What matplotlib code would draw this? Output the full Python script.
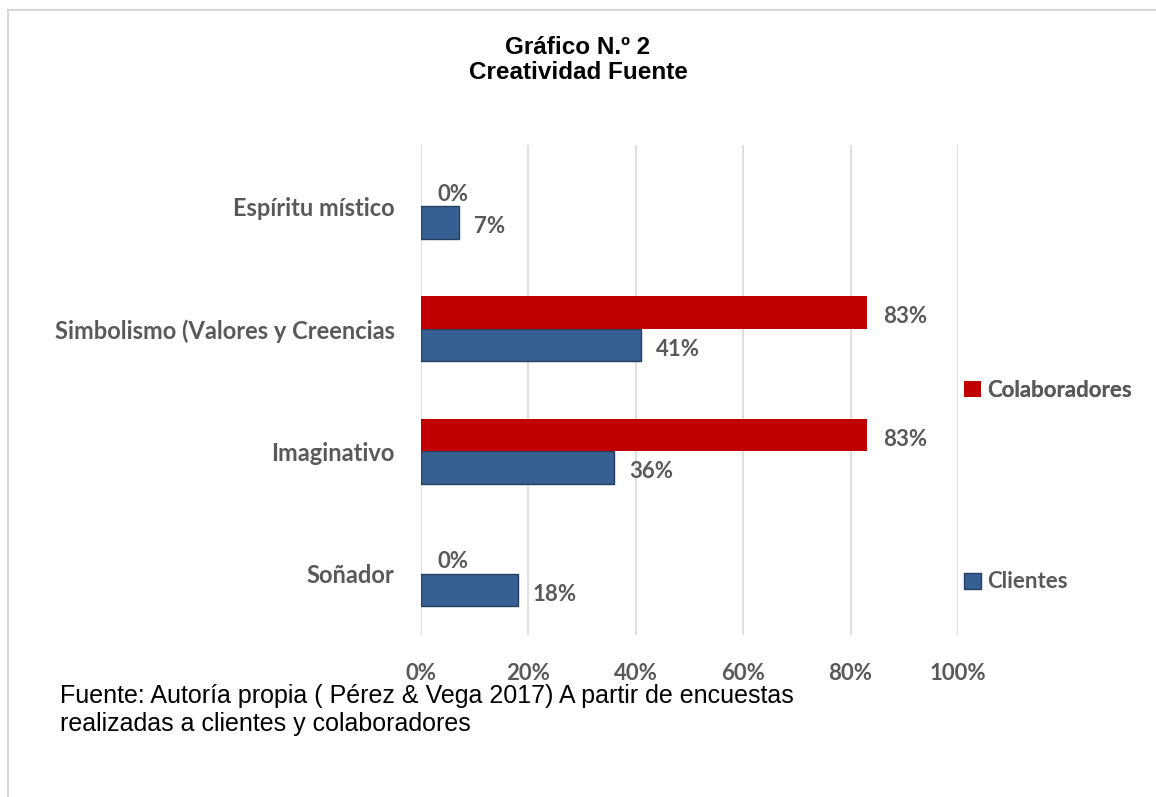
import matplotlib.pyplot as plt
from matplotlib.patches import Rectangle, Patch

categorias = ['Soñador', 'Imaginativo', 'Simbolismo (Valores y Creencias', 'Espíritu místico']
clientes = [18, 36, 41, 7]
colaboradores = [0, 83, 83, 0]
ticks = [0, 20, 40, 60, 80, 100]

GRIS = '#595959'
AZUL = '#376092'
ROJO = '#c00000'
TAM = 16

fig = plt.figure(figsize=(11.56, 7.97), dpi=100)
fig.patches.append(Rectangle((8 / 1156, -0.1), 1.2, 1 - 10 / 797 + 0.1, transform=fig.transFigure,
                             fill=False, edgecolor='#d9d9d9', linewidth=1.5))

ax = fig.add_axes([421 / 1156, 1 - 635 / 797, 537 / 1156, 490 / 797])

alto = 0.265
y = range(len(categorias))
ax.barh([i - alto / 2 for i in y], clientes, height=alto, color=AZUL, edgecolor='#243f60', linewidth=1, zorder=3)
ax.barh([i + alto / 2 for i in y], colaboradores, height=alto, color=ROJO, zorder=3)

for i in y:
    ax.annotate(f'{clientes[i]}%', (clientes[i], i - alto / 2), xytext=(11, -3), textcoords='offset points',
                ha='left', va='center', fontsize=TAM, fontweight='bold', color=GRIS, family='Lato')
    ax.annotate(f'{colaboradores[i]}%', (colaboradores[i], i + alto / 2), xytext=(12, -3), textcoords='offset points',
                ha='left', va='center', fontsize=TAM, fontweight='bold', color=GRIS, family='Lato')

ax.set_xlim(0, 100)
ax.set_ylim(-0.5, 3.5)
ax.set_xticks(ticks)
ax.set_xticklabels([f'{t}%' for t in ticks], fontsize=TAM, fontweight='bold', color=GRIS, family='Lato')
ax.set_yticks(list(y))
ax.set_yticklabels(categorias, fontsize=17, fontweight='bold', color=GRIS, family='Lato')
ax.tick_params(axis='x', length=0, pad=20)
ax.tick_params(axis='y', length=0, pad=19)
ax.grid(axis='x', color='#d9d9d9', linewidth=1.2, zorder=0)
for s in ax.spines.values():
    s.set_visible(False)

fig.text(0.5, 1 - 54 / 797, 'Gráfico N.º 2', ha='center', va='baseline', fontsize=17.5, fontweight='bold',
         family='Liberation Sans')
fig.text(0.5, 1 - 79 / 797, 'Creatividad Fuente', ha='center', va='baseline', fontsize=17.5, fontweight='bold',
         family='Liberation Sans')

leyenda = dict(frameon=False, handlelength=0.75, handleheight=0.75, handletextpad=0.3, borderaxespad=0,
               loc='center left', prop={'family': 'Lato', 'weight': 'bold', 'size': TAM})
leg1 = fig.legend(handles=[Patch(facecolor=ROJO, label='Colaboradores')],
                  bbox_to_anchor=(955 / 1156, 1 - 390 / 797), **leyenda)
for t in leg1.get_texts():
    t.set_color(GRIS)
leg2 = fig.legend(handles=[Patch(facecolor=AZUL, edgecolor='#243f60', label='Clientes')],
                  bbox_to_anchor=(955 / 1156, 1 - 582 / 797), **leyenda)
for t in leg2.get_texts():
    t.set_color(GRIS)
fig.add_artist(leg1)

fig.text(60 / 1156, 1 - 703 / 797, 'Fuente: Autoría propia ( Pérez & Vega 2017) A partir de encuestas', ha='left',
         va='baseline', fontsize=18, family='Liberation Sans')
fig.text(60 / 1156, 1 - 731 / 797, 'realizadas a clientes y colaboradores', ha='left', va='baseline', fontsize=18,
         family='Liberation Sans')

fig.savefig('out.png', dpi=100)
